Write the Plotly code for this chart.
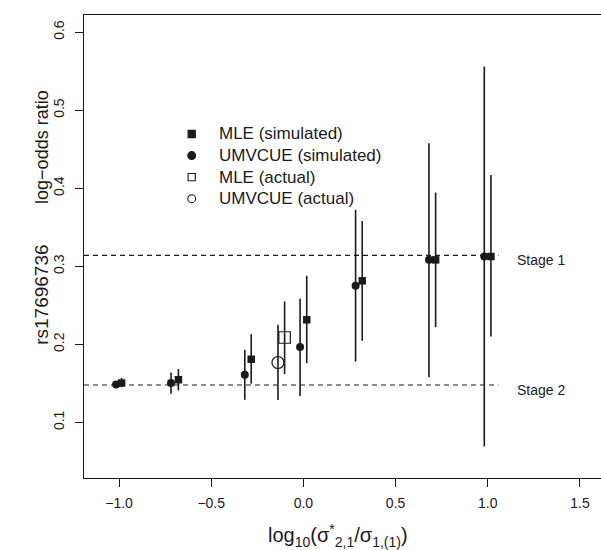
import plotly.graph_objects as go

# ---- data ----
mle_sim_x = [-0.986, -0.678, -0.283, 0.018, 0.319, 0.717, 1.017]
mle_sim_y = [0.1505, 0.1547, 0.181, 0.2315, 0.2814, 0.3083, 0.3126]
mle_sim_lo = [0.145, 0.141, 0.1496, 0.176, 0.2046, 0.222, 0.21]
mle_sim_hi = [0.157, 0.1684, 0.213, 0.2878, 0.358, 0.3945, 0.417]

umv_sim_x = [-1.016, -0.718, -0.318, -0.018, 0.283, 0.681, 0.981]
umv_sim_y = [0.1487, 0.1505, 0.161, 0.1965, 0.275, 0.3083, 0.3126]
umv_sim_lo = [0.146, 0.1367, 0.129, 0.134, 0.178, 0.158, 0.0693]
umv_sim_hi = [0.152, 0.164, 0.193, 0.2584, 0.3723, 0.4577, 0.556]

mle_act_x = [-0.102]
mle_act_y = [0.2088]
mle_act_lo = [0.162]
mle_act_hi = [0.255]

umv_act_x = [-0.138]
umv_act_y = [0.1768]
umv_act_lo = [0.1286]
umv_act_hi = [0.225]

stage_values = [0.314, 0.148]
stage_labels = ["Stage 1", "Stage 2"]
stage_line_x = [-1.19, 1.058]

x_ticks = [-1.0, -0.5, 0.0, 0.5, 1.0, 1.5]
x_ticktext = ["\u22121.0", "\u22120.5", "0.0", "0.5", "1.0", "1.5"]
y_ticks = [0.1, 0.2, 0.3, 0.4, 0.5, 0.6]
y_ticktext = ["0.1", "0.2", "0.3", "0.4", "0.5", "0.6"]

legend_names = ["MLE (simulated)", "UMVCUE (simulated)", "MLE (actual)", "UMVCUE (actual)"]

FONT = "Liberation Sans, Arial, Helvetica, sans-serif"
INK = "#1a1a1a"

fig = go.Figure()

# stage reference lines
for v in stage_values:
    fig.add_trace(go.Scatter(x=stage_line_x, y=[v, v], mode="lines",
                             line=dict(color=INK, width=1.1, dash="5px,4px"),
                             showlegend=False, hoverinfo="skip"))


def err(y, lo, hi):
    return dict(type="data", symmetric=False,
                array=[h - m for m, h in zip(y, hi)],
                arrayminus=[m - l for m, l in zip(y, lo)],
                color=INK, thickness=1.6, width=0)


series = [
    (umv_sim_x, umv_sim_y, umv_sim_lo, umv_sim_hi, "circle", 8, INK, 0),
    (mle_sim_x, mle_sim_y, mle_sim_lo, mle_sim_hi, "square", 7.5, INK, 0),
    (umv_act_x, umv_act_y, umv_act_lo, umv_act_hi, "circle-open", 12, INK, 1.2),
    (mle_act_x, mle_act_y, mle_act_lo, mle_act_hi, "square-open", 11.5, INK, 1.2),
]
for x, y, lo, hi, sym, size, col, lw in series:
    fig.add_trace(go.Scatter(
        x=x, y=y, mode="markers", error_y=err(y, lo, hi),
        marker=dict(symbol=sym, size=size, color=col, line=dict(color=col, width=lw)),
        showlegend=False))

# ---- legend drawn in the plot (R-style, no box) ----
leg_kinds = [("rect", True), ("circle", True), ("rect", False), ("circle", False)]
leg_x_marker = 0.2083
leg_x_text = 0.2567
leg_y_top = 0.743
leg_row = 0.0466
for i, (name, (kind, filled)) in enumerate(zip(legend_names, leg_kinds)):
    yy = leg_y_top - i * leg_row
    half = 3.6 if kind == "rect" else 3.9
    fig.add_shape(type=kind, xref="paper", yref="paper",
                  xsizemode="pixel", ysizemode="pixel",
                  xanchor=leg_x_marker, yanchor=yy,
                  x0=-half, x1=half, y0=-half, y1=half,
                  line=dict(color=INK, width=1.1),
                  fillcolor=INK if filled else "rgba(0,0,0,0)")
    fig.add_annotation(xref="paper", yref="paper", x=leg_x_text, y=yy,
                       text=name, showarrow=False, xanchor="left", yanchor="middle",
                       font=dict(family=FONT, size=17, color=INK))

# stage labels
for v, lab in zip(stage_values, stage_labels):
    fig.add_annotation(x=1.148, y=v, yshift=-5, text=lab, showarrow=False,
                       xanchor="left", yanchor="middle",
                       font=dict(family=FONT, size=14, color=INK))

# axis titles
fig.add_annotation(xref="x", yref="paper", x=0.19, y=0, yshift=-57,
                   text="log<sub>10</sub>(\u03c3<sup>*</sup><sub>2,1</sub>/\u03c3<sub>1,(1)</sub>)",
                   showarrow=False, xanchor="center", yanchor="middle",
                   font=dict(family=FONT, size=20, color=INK))
fig.add_annotation(xref="paper", yref="y", x=0, xshift=-42, y=0.453,
                   text="log\u2212odds ratio", textangle=-90, showarrow=False,
                   xanchor="center", yanchor="middle",
                   font=dict(family=FONT, size=18, color=INK))
fig.add_annotation(xref="paper", yref="y", x=0, xshift=-42, y=0.2635,
                   text="rs17696736", textangle=-90, showarrow=False,
                   xanchor="center", yanchor="middle",
                   font=dict(family=FONT, size=19, color=INK))

fig.update_layout(
    width=601, height=550,
    margin=dict(l=84, r=0, t=15, b=72, autoexpand=False),
    paper_bgcolor="white", plot_bgcolor="white",
    font=dict(family=FONT, color=INK),
    showlegend=False,
    xaxis=dict(range=[-1.19, 1.614], tickvals=x_ticks, ticktext=x_ticktext,
               automargin=False, ticklabelstandoff=4,
               showgrid=False, zeroline=False, showline=True, mirror=True,
               linecolor=INK, linewidth=1.2, ticks="outside", ticklen=8,
               tickcolor=INK, tickwidth=1.2, tickfont=dict(size=14, family=FONT, color=INK)),
    yaxis=dict(range=[0.0288, 0.622], tickvals=y_ticks, ticktext=y_ticktext,
               automargin=False, ticklabelstandoff=5,
               showgrid=False, zeroline=False, showline=True, mirror=False,
               linecolor=INK, linewidth=1.2, ticks="outside", ticklen=8,
               tickcolor=INK, tickwidth=1.2, tickangle=-90,
               tickfont=dict(size=14, family=FONT, color=INK)),
)

fig.write_html("out.html", config={"displayModeBar": False},
               post_script="document.body.style.margin='0';document.body.style.overflow='hidden';")
